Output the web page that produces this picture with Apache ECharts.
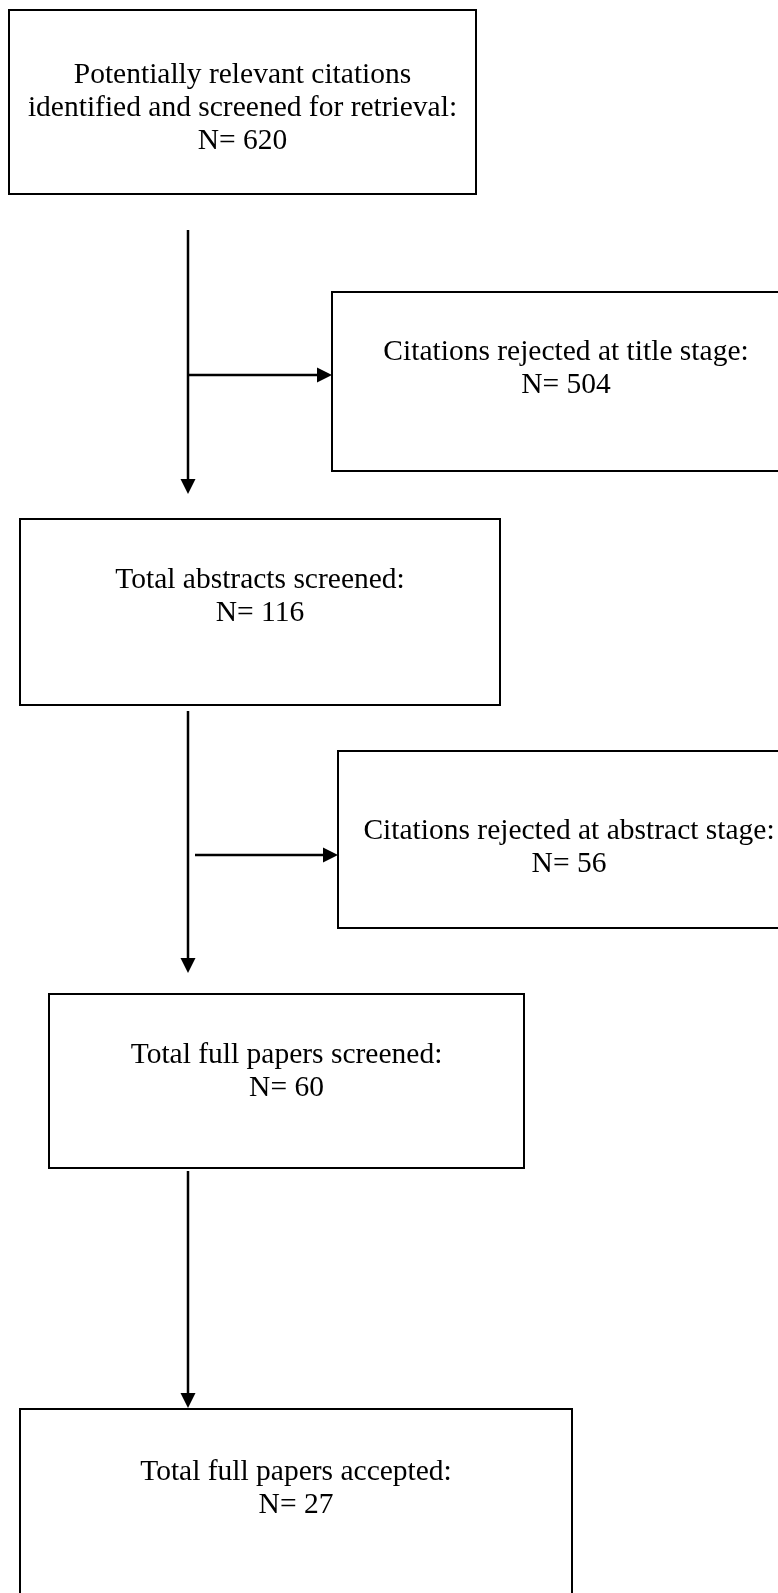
<!DOCTYPE html>
<html>
<head>
<meta charset="utf-8">
<script src="https://cdn.jsdelivr.net/npm/echarts@6/dist/echarts.min.js"></script>
<style>
html,body{margin:0;padding:0;background:#fff;}
#chart{width:778px;height:1593px;}
</style>
</head>
<body>
<div id="chart"></div>
<script>
// ---- content ----
const stageLabels = [
  "Potentially relevant citations\nidentified and screened for retrieval:",
  "Citations rejected at title stage:",
  "Total abstracts screened:",
  "Citations rejected at abstract stage:",
  "Total full papers screened:",
  "Total full papers accepted:"
];
const stageCounts = [620, 504, 116, 56, 60, 27];

// ---- layout (page pixel space) ----
const boxX0 = [9, 332, 20, 338, 49, 20];
const boxX1 = [476, 800, 500, 800, 524, 572];
const boxY0 = [10, 292, 519, 751, 994, 1409];
const boxY1 = [194, 471, 705, 928, 1168, 1630];
const firstLineY = [75, 352, 580, 831, 1055, 1472];

// arrows: from (x0, y0) to (x1, y1)
const arrowX0 = [188, 188, 188, 195, 188];
const arrowY0 = [230, 375, 711, 855, 1171];
const arrowX1 = [188, 332, 188, 338, 188];
const arrowY1 = [494, 375, 973, 855, 1408];

const LINE_H = 33;
const FONT_SIZE = 29.5;
const FONT = 'Liberation Serif';

const boxData = stageLabels.map((s, i) => [boxX0[i], boxY0[i], boxX1[i], boxY1[i], i]);
const arrowData = arrowX0.map((x, i) => [x, arrowY0[i], arrowX1[i], arrowY1[i]]);

const chart = echarts.init(document.getElementById('chart'), null, {renderer: 'canvas'});
chart.setOption({
  animation: false,
  backgroundColor: '#ffffff',
  grid: {left: 0, right: 0, top: 0, bottom: 0},
  xAxis: {type: 'value', min: 0, max: 778, show: false},
  yAxis: {type: 'value', min: 0, max: 1593, inverse: true, show: false},
  series: [
    {
      type: 'custom',
      coordinateSystem: 'cartesian2d',
      data: boxData,
      encode: {x: [0, 2], y: [1, 3]},
      clip: false,
      renderItem: function (params, api) {
        const i = api.value(4);
        const p0 = api.coord([api.value(0), api.value(1)]);
        const p1 = api.coord([api.value(2), api.value(3)]);
        const cx = (p0[0] + p1[0]) / 2;
        const ty = api.coord([0, firstLineY[i]])[1] - LINE_H / 2;
        return {
          type: 'group',
          children: [
            {
              type: 'rect',
              shape: {x: p0[0], y: p0[1], width: p1[0] - p0[0], height: p1[1] - p0[1]},
              style: {fill: '#ffffff', stroke: '#000000', lineWidth: 2}
            },
            {
              type: 'text',
              x: cx, y: ty,
              style: {
                text: stageLabels[i] + '\nN= ' + stageCounts[i],
                fontFamily: FONT, fontSize: FONT_SIZE,
                lineHeight: LINE_H,
                align: 'center', verticalAlign: 'top',
                fill: '#000000'
              }
            }
          ]
        };
      }
    },
    {
      type: 'custom',
      coordinateSystem: 'cartesian2d',
      data: arrowData,
      encode: {x: [0, 2], y: [1, 3]},
      clip: false,
      renderItem: function (params, api) {
        const a = api.coord([api.value(0), api.value(1)]);
        const b = api.coord([api.value(2), api.value(3)]);
        const dx = b[0] - a[0], dy = b[1] - a[1];
        const len = Math.sqrt(dx * dx + dy * dy);
        const ux = dx / len, uy = dy / len;
        const hl = 15, hw = 7.5;
        const bx = b[0] - ux * hl, by = b[1] - uy * hl;
        return {
          type: 'group',
          children: [
            {
              type: 'line',
              shape: {x1: a[0], y1: a[1], x2: bx + ux, y2: by + uy},
              style: {stroke: '#000000', lineWidth: 2.5}
            },
            {
              type: 'polygon',
              shape: {points: [[b[0], b[1]], [bx - uy * hw, by + ux * hw], [bx + uy * hw, by - ux * hw]]},
              style: {fill: '#000000'}
            }
          ]
        };
      }
    }
  ]
});
</script>
</body>
</html>
